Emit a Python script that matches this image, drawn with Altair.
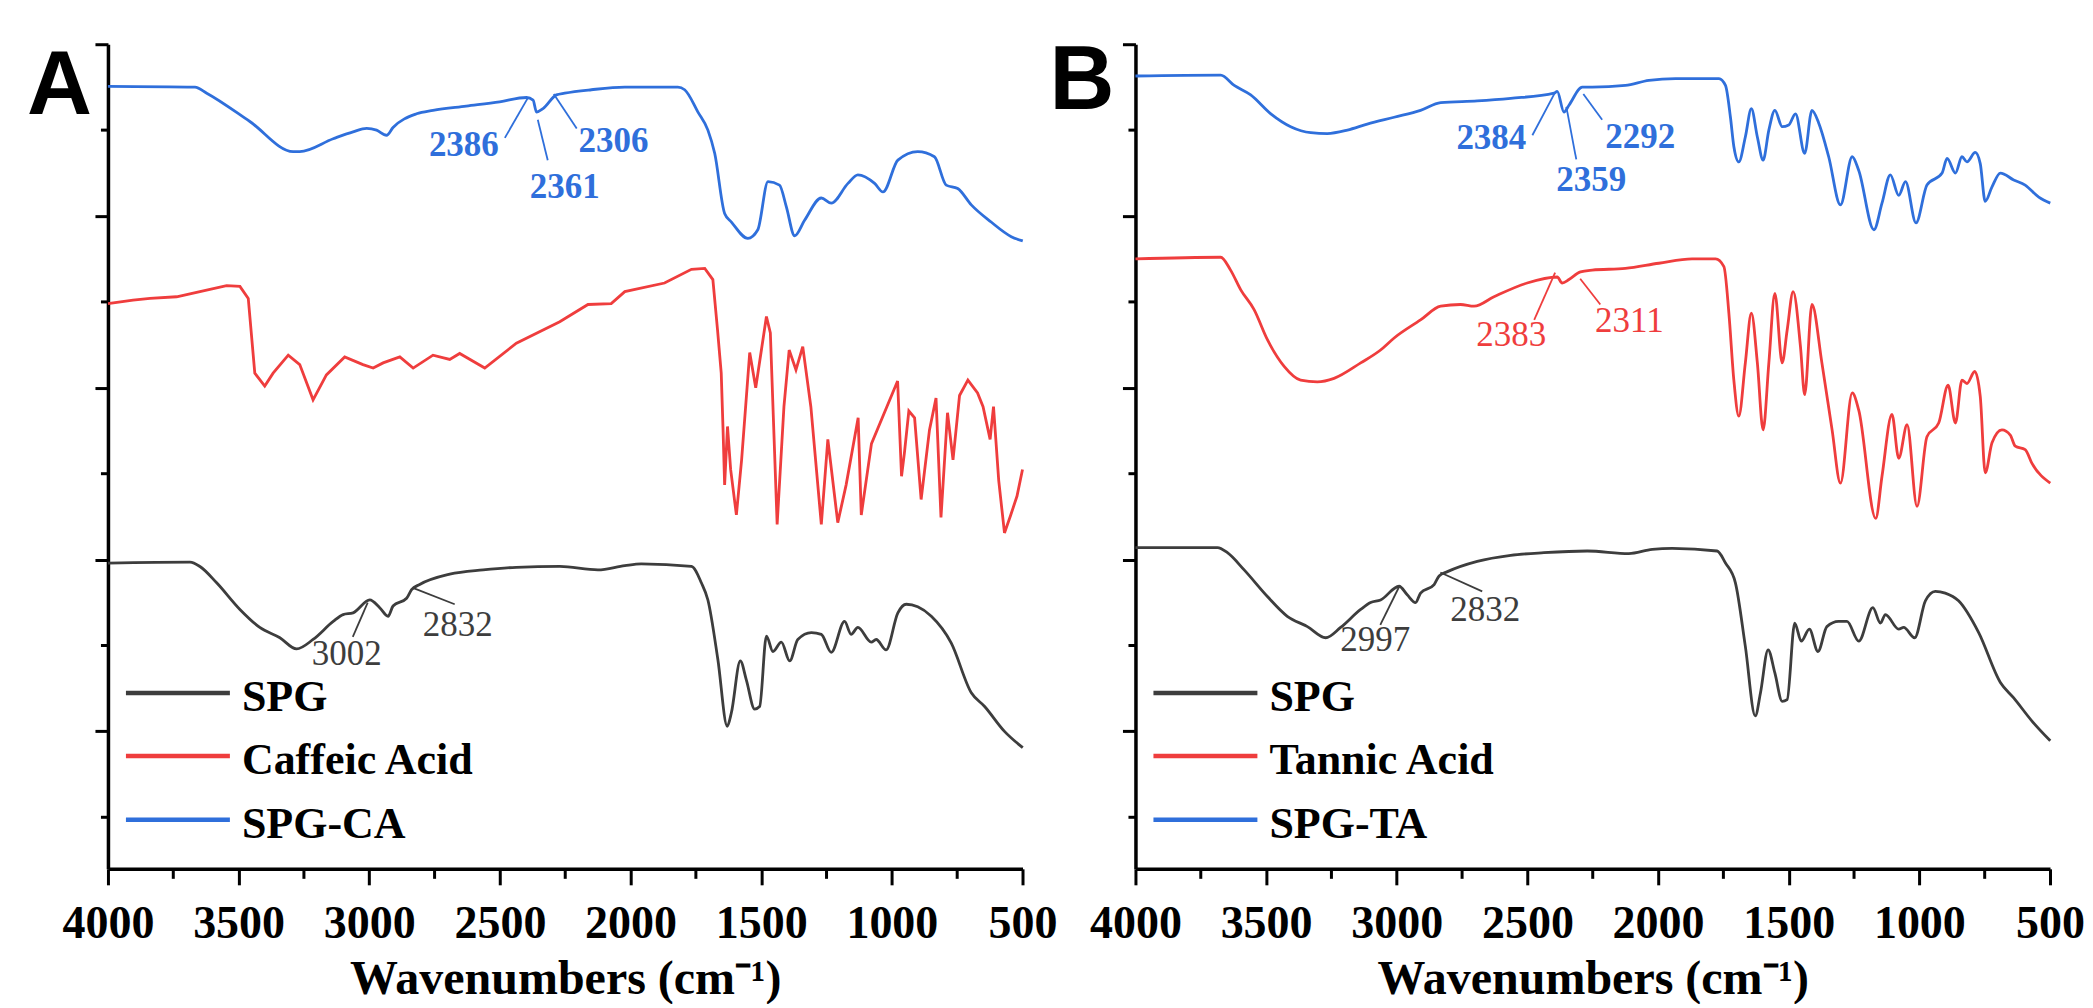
import altair as alt
import pandas as pd

# ---------------- data: (wavenumber cm-1, stacked transmittance a.u.) ----------------
A_SPG = [(4000,2.96),(3686,2.97),(3648,2.92),(3584,2.73),(3495,2.42),(3419,2.21),(3342,2.09),
         (3278,1.96),(3215,2.07),(3138,2.28),(3100,2.36),(3062,2.38),(2998,2.53),(2960,2.44),
         (2928,2.34),(2909,2.46),(2857,2.55),(2838,2.65),(2807,2.71),(2692,2.83),(2564,2.88),
         (2437,2.91),(2271,2.92),(2125,2.88),(2022,2.93),(1959,2.95),(1767,2.92),(1729,2.73),
         (1704,2.53),(1666,1.84),(1630,1.06),(1614,1.22),(1580,1.82),(1557,1.60),(1525,1.26),
         (1506,1.29),(1480,2.11),(1455,1.93),(1423,2.04),(1391,1.82),(1360,2.07),(1308,2.15),
         (1270,2.13),(1232,1.92),(1181,2.28),(1156,2.13),(1130,2.21),(1079,2.04),(1060,2.07),
         (1022,1.95),(977,2.38),(945,2.48),(901,2.45),(849,2.34),(773,2.03),(696,1.45),
         (645,1.29),(569,1.00),(499,0.81)]

A_CA = [(4000,5.98),(3904,6.02),(3839,6.04),(3737,6.06),(3648,6.12),(3546,6.19),(3495,6.18),
        (3463,6.04),(3438,5.17),(3400,5.02),(3368,5.17),(3310,5.38),(3266,5.27),(3215,4.86),
        (3164,5.15),(3094,5.36),(3024,5.27),(2985,5.23),(2947,5.29),(2883,5.36),(2832,5.23),
        (2756,5.38),(2692,5.33),(2654,5.40),(2558,5.23),(2437,5.52),(2271,5.77),(2163,5.97),
        (2074,5.98),(2022,6.12),(1870,6.22),(1767,6.38),(1716,6.39),(1685,6.26),(1667,5.67),
        (1653,5.17),(1646,4.51),(1640,3.87),(1629,4.55),(1617,4.05),(1595,3.52),(1575,4.16),
        (1544,5.41),(1521,5.00),(1480,5.83),(1465,5.64),(1439,3.41),(1413,4.78),(1393,5.44),
        (1367,5.21),(1341,5.48),(1310,4.78),(1270,3.41),(1245,4.40),(1207,3.43),(1175,3.87),
        (1129,4.65),(1117,3.52),(1078,4.35),(978,5.08),(963,3.97),(952,4.24),(935,4.73),
        (913,4.65),(888,3.70),(856,4.51),(831,4.88),(812,3.49),(787,4.71),(766,4.16),
        (741,4.91),(709,5.09),(672,4.94),(651,4.78),(624,4.40),(611,4.78),(591,3.92),
        (569,3.31),(546,3.51),(521,3.74),(500,4.05)]

A_SPG_CA = [(4000,8.51),(3667,8.50),(3622,8.43),(3457,8.10),(3291,7.75),(3266,7.75),(3138,7.90),
            (3062,7.98),(3010,8.02),(2972,8.00),(2934,7.94),(2909,8.03),(2819,8.19),(2756,8.23),
            (2629,8.28),(2501,8.33),(2398,8.38),(2373,8.35),(2360,8.21),(2335,8.25),(2284,8.41),
            (2252,8.43),(2150,8.47),(2022,8.50),(1819,8.50),(1793,8.47),(1742,8.21),(1704,8.00),
            (1678,7.73),(1640,7.03),(1614,6.93),(1551,6.74),(1513,6.84),(1474,7.40),(1430,7.36),
            (1404,7.11),(1372,6.77),(1334,6.95),(1270,7.21),(1232,7.15),(1168,7.38),(1130,7.48),
            (1066,7.38),(1034,7.28),(977,7.65),(901,7.75),(837,7.69),(792,7.36),(748,7.32),
            (696,7.13),(620,6.93),(543,6.76),(499,6.71)]

B_SPG = [(4000,3.14),(3686,3.14),(3648,3.08),(3584,2.88),(3495,2.57),(3419,2.34),(3342,2.22),
         (3272,2.09),(3215,2.21),(3138,2.42),(3100,2.50),(3062,2.53),(2991,2.69),(2960,2.59),
         (2928,2.50),(2909,2.61),(2857,2.71),(2838,2.81),(2806,2.86),(2692,2.98),(2564,3.05),
         (2437,3.08),(2271,3.10),(2112,3.07),(2022,3.12),(1946,3.13),(1774,3.10),(1742,2.96),
         (1704,2.73),(1666,1.99),(1628,1.18),(1608,1.45),(1579,1.95),(1553,1.68),(1525,1.35),
         (1506,1.37),(1477,2.26),(1452,2.05),(1421,2.19),(1388,1.93),(1354,2.22),(1309,2.28),
         (1277,2.28),(1232,2.05),(1178,2.44),(1149,2.26),(1130,2.36),(1079,2.19),(1060,2.21),
         (1018,2.09),(977,2.52),(939,2.63),(901,2.61),(850,2.52),(773,2.15),(690,1.57),
         (639,1.39),(569,1.12),(499,0.89)]

B_TA = [(4000,6.50),(3674,6.52),(3636,6.37),(3597,6.14),(3546,5.91),(3495,5.56),(3431,5.25),
        (3368,5.09),(3304,5.07),(3240,5.11),(3138,5.29),(3062,5.44),(3010,5.58),(2909,5.79),
        (2832,5.95),(2756,5.97),(2704,5.95),(2628,6.06),(2501,6.22),(2386,6.29),(2367,6.22),
        (2341,6.26),(2297,6.35),(2252,6.37),(2125,6.39),(1997,6.45),(1870,6.50),(1780,6.50),
        (1748,6.41),(1729,5.87),(1710,5.09),(1691,4.67),(1666,5.29),(1643,5.87),(1620,5.29),
        (1598,4.51),(1576,5.29),(1553,6.10),(1525,5.29),(1506,5.67),(1483,6.12),(1455,5.48),
        (1439,4.92),(1411,5.97),(1373,5.29),(1334,4.51),(1302,3.89),(1257,4.94),(1232,4.74),
        (1167,3.48),(1143,3.97),(1105,4.69),(1079,4.18),(1047,4.57),(1009,3.62),(971,4.43),
        (926,4.59),(890,5.03),(862,4.59),(837,5.09),(818,5.05),(788,5.19),(767,4.90),
        (748,4.01),(722,4.36),(684,4.51),(652,4.45),(633,4.32),(595,4.28),(569,4.12),(499,3.89)]

B_SPG_TA = [(4000,8.63),(3674,8.64),(3622,8.52),(3559,8.41),(3482,8.19),(3406,8.04),(3329,7.97),
            (3266,7.96),(3189,8.00),(3113,8.07),(3010,8.15),(2909,8.23),(2832,8.32),(2692,8.34),
            (2564,8.37),(2398,8.43),(2386,8.45),(2360,8.21),(2341,8.29),(2290,8.50),(2252,8.50),
            (2125,8.52),(2035,8.58),(1933,8.60),(1767,8.60),(1742,8.52),(1723,8.15),(1710,7.81),
            (1691,7.63),(1666,7.92),(1643,8.25),(1620,7.92),(1598,7.65),(1576,8.00),(1553,8.23),
            (1525,8.04),(1500,8.06),(1474,8.19),(1439,7.73),(1411,8.23),(1385,8.08),(1347,7.69),
            (1302,7.13),(1257,7.69),(1232,7.53),(1174,6.84),(1143,7.15),(1111,7.48),(1079,7.24),
            (1053,7.40),(1013,6.92),(971,7.36),(913,7.50),(894,7.67),(862,7.50),(837,7.69),
            (818,7.63),(786,7.74),(767,7.61),(748,7.17),(722,7.34),(690,7.50),(639,7.42),
            (595,7.36),(543,7.22),(499,7.15)]

# peak labels: (text, series, wavenumber, value) and leader lines (series, wn1, t1, wn2, t2)
ANN_A = [("2386","comp",2638,7.83),("2361","comp",2252,7.34),("2306","comp",2065,7.87),
         ("3002","spg",3086,1.90),("2832","spg",2661,2.24)]
LEAD_A = [("comp",2394,8.37,2481,7.91),("comp",2355,8.12,2317,7.65),("comp",2294,8.42,2206,8.02),
          ("spg",3006,2.50,3063,2.10),("spg",2833,2.67,2673,2.48)]
ANN_B = [("2384","comp",2638,7.91),("2359","comp",2256,7.42),("2292","comp",2068,7.92),
         ("2383","acid",2562,5.62),("2311","acid",2110,5.78),
         ("2997","spg",3082,2.06),("2832","spg",2661,2.41)]
LEAD_B = [("comp",2394,8.44,2481,7.94),("comp",2351,8.27,2313,7.66),("comp",2286,8.42,2214,8.12),
          ("acid",2394,6.34,2474,5.79),("acid",2298,6.27,2221,5.97),
          ("spg",2990,2.69,3063,2.24),("spg",2833,2.85,2673,2.63)]

LEGEND_A = ["SPG", "Caffeic Acid", "SPG-CA"]
LEGEND_B = ["SPG", "Tannic Acid", "SPG-TA"]
LEGEND_KEYS = ["spg", "acid", "comp"]

X_MAJOR = [4000, 3500, 3000, 2500, 2000, 1500, 1000, 500]
X_MINOR = [3750, 3250, 2750, 2250, 1750, 1250, 750]
Y_MAJOR = [1, 3, 5, 7, 9]
Y_MINOR = [0, 2, 4, 6, 8]

# ---------------- styles ----------------
COLORS = {"spg": "#3d3d3d", "acid": "#ef3d3d", "comp": "#2f6fdb"}
W, H = 915, 825
SERIF = "Liberation Serif"
LEG_Y = [649, 712, 776]


def build_panel(letter, letter_x, letter_y, curves, legend_labels, ann, lead):
    xs = alt.Scale(domain=[4000, 500], nice=False, zero=False)
    ys = alt.Scale(domain=[-0.6, 9.0], nice=False, zero=False)
    cs = alt.Scale(domain=list(COLORS.keys()), range=list(COLORS.values()))
    col = alt.Color("series:N", scale=cs, legend=None)
    xaxis = alt.Axis(values=X_MAJOR, format="d", title="Wavenumbers (cm\u207b\u00b9)",
                     titleFont=SERIF, titleFontSize=48, titleFontWeight="bold",
                     titleColor="black", titlePadding=9,
                     labelFont=SERIF, labelFontSize=46, labelFontWeight="bold",
                     labelColor="black", labelPadding=17, labelFlush=False,
                     labelOverlap=False, tickSize=16, tickWidth=3, tickColor="black",
                     domainColor="black", domainWidth=3.5, grid=False)
    yaxis = alt.Axis(values=Y_MAJOR, labels=False, title=None, tickSize=13, tickWidth=3,
                     tickColor="black", domainColor="black", domainWidth=3.5, grid=False)

    def X(f):
        return alt.X(f, scale=xs, axis=xaxis, title="Wavenumbers (cm\u207b\u00b9)")

    def Y(f):
        return alt.Y(f, scale=ys, axis=yaxis, title=None)

    layers = []
    for key, pts, interp in curves:
        df = pd.DataFrame(pts, columns=["wn", "t"])
        df["series"] = key
        df["order"] = range(len(df))
        layers.append(
            alt.Chart(df).mark_line(strokeWidth=2.8, interpolate=interp).encode(
                x=X("wn:Q"), y=Y("t:Q"), color=col, order="order:Q"))
    # minor ticks
    layers.append(alt.Chart(pd.DataFrame({"wn": X_MINOR})).mark_rule(color="black", strokeWidth=3)
                  .encode(x=X("wn:Q"), y=alt.value(H), y2=alt.value(H + 10)))
    layers.append(alt.Chart(pd.DataFrame({"t": Y_MINOR})).mark_rule(color="black", strokeWidth=3)
                  .encode(y=Y("t:Q"), x=alt.value(0), x2=alt.value(-7)))
    # leader lines
    ldf = pd.DataFrame(lead, columns=["series", "wn", "t", "wn2", "t2"])
    layers.append(alt.Chart(ldf).mark_rule(strokeWidth=1.8).encode(
        x=X("wn:Q"), x2="wn2:Q", y=Y("t:Q"), y2="t2:Q", color=col))
    # labels
    adf = pd.DataFrame(ann, columns=["label", "series", "wn", "t"])
    for sel, weight in [(adf.series == "comp", "bold"), (adf.series != "comp", "normal")]:
        layers.append(alt.Chart(adf[sel]).mark_text(font=SERIF, fontSize=35, fontWeight=weight,
                                                    align="center", baseline="middle").encode(
            x=X("wn:Q"), y=Y("t:Q"), text="label:N", color=col))
    # legend
    for k, (lab, key) in enumerate(zip(legend_labels, LEGEND_KEYS)):
        one = pd.DataFrame({"lab": [lab]})
        layers.append(alt.Chart(one).mark_rule(strokeWidth=4.5, color=COLORS[key]).encode(
            x=alt.value(18), x2=alt.value(122), y=alt.value(LEG_Y[k])))
        layers.append(alt.Chart(one).mark_text(font=SERIF, fontWeight="bold", fontSize=44,
                                               align="left", baseline="alphabetic",
                                               color="black").encode(
            text="lab:N", x=alt.value(134), y=alt.value(LEG_Y[k] + 18)))
    # panel letter
    layers.append(alt.Chart(pd.DataFrame({"lab": [letter]})).mark_text(
        font="Liberation Sans", fontWeight="bold", fontSize=90, align="left",
        baseline="alphabetic", color="black").encode(
        text="lab:N", x=alt.value(letter_x), y=alt.value(letter_y)))
    return alt.layer(*layers).properties(width=W, height=H)


panel_a = build_panel("A", -81, 70,
                      [("spg", A_SPG, "monotone"), ("acid", A_CA, "linear"),
                       ("comp", A_SPG_CA, "monotone")],
                      LEGEND_A, ANN_A, LEAD_A)
panel_b = build_panel("B", -86, 65,
                      [("spg", B_SPG, "monotone"), ("acid", B_TA, "monotone"),
                       ("comp", B_SPG_TA, "monotone")],
                      LEGEND_B, ANN_B, LEAD_B)

chart = (alt.hconcat(panel_a, panel_b, spacing=113, bounds="flush",
                     padding={"left": 19, "top": 29, "right": 0, "bottom": 0})
         .configure(background="white")
         .configure_view(stroke=None))

chart.save("out.html", embed_options={"renderer": "svg", "actions": False})
